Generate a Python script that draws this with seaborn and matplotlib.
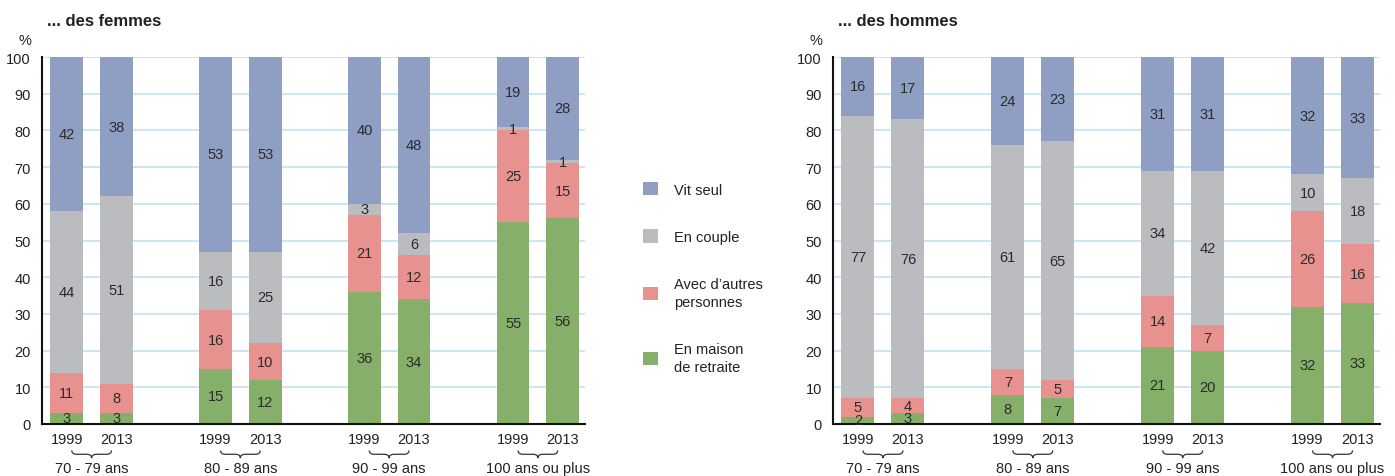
import matplotlib
matplotlib.use("Agg")
import matplotlib.pyplot as plt
from matplotlib.patches import Patch
from matplotlib.path import Path
from matplotlib.patches import PathPatch
import numpy as np
import pandas as pd
import seaborn as sns

# categories
groups = ["70 - 79 ans", "80 - 89 ans", "90 - 99 ans", "100 ans ou plus"]
years = ["1999", "2013"]
layers = ["En maison\nde retraite", "Avec d\u2019autres\npersonnes", "En couple", "Vit seul"]
colors = ["#86b06a", "#e8928f", "#bbbcc0", "#8f9fc4"]

# values per bar (1999, 2013 for each age group), bottom to top
f_maison = [3, 3, 15, 12, 36, 34, 55, 56]
f_autres = [11, 8, 16, 10, 21, 12, 25, 15]
f_couple = [44, 51, 16, 25, 3, 6, 1, 1]
f_seul = [42, 38, 53, 53, 40, 48, 19, 28]

h_maison = [2, 3, 8, 7, 21, 20, 32, 33]
h_autres = [5, 4, 7, 5, 14, 7, 26, 16]
h_couple = [77, 76, 61, 65, 34, 42, 10, 18]
h_seul = [16, 17, 24, 23, 31, 31, 32, 33]

positions = [0, 1, 3, 4, 6, 7, 9, 10]

sns.set_style("white")
plt.rcParams["font.family"] = ["Liberation Sans Narrow", "Liberation Sans", "DejaVu Sans"]

FS = 10.5
TXT = "#222222"

fig = plt.figure(figsize=(13.95, 4.77), dpi=100)
ax_f = fig.add_axes([42 / 1395, 1 - 425 / 477, 543 / 1395, 367 / 477])
ax_h = fig.add_axes([833 / 1395, 1 - 425 / 477, 547 / 1395, 367 / 477])


def brace(ax, x0, x1, ytop, ybot):
    xm = (x0 + x1) / 2
    ymid = (ytop + ybot) / 2
    verts = [(x0, ytop), (x0, ymid), (x0 + 0.1, ymid), (xm - 0.1, ymid),
             (xm, ymid), (xm, ybot), (xm, ybot),
             (xm, ymid), (xm + 0.1, ymid), (x1 - 0.1, ymid),
             (x1, ymid), (x1, ytop)]
    codes = [Path.MOVETO, Path.CURVE3, Path.CURVE3, Path.LINETO,
             Path.CURVE3, Path.CURVE3, Path.MOVETO,
             Path.CURVE3, Path.CURVE3, Path.LINETO,
             Path.CURVE3, Path.CURVE3]
    p = PathPatch(Path(verts, codes), transform=ax.get_xaxis_transform(),
                  fill=False, lw=0.9, edgecolor="#333333", clip_on=False)
    ax.add_patch(p)


def draw(ax, vals, title):
    df = pd.DataFrame({"pos": positions})
    cum = np.zeros(len(positions))
    cums = []
    for v in vals:
        cum = cum + np.array(v)
        cums.append(cum.copy())
    # draw from top layer down so lower layers overlay
    for i in reversed(range(len(vals))):
        df["h"] = np.minimum(cums[i], 100)
        sns.barplot(data=df, x="pos", y="h", native_scale=True, width=0.66,
                    color=colors[i], saturation=1, linewidth=0, ax=ax, zorder=2)
    for i, v in enumerate(vals):
        for j, x in enumerate(positions):
            mid = cums[i][j] - v[j] / 2
            ax.text(x, mid, str(v[j]), ha="center", va="center",
                    fontsize=FS, color="#2b2b2b", zorder=5)
    ax.set_xlim(-0.5, 10.45)
    ax.set_ylim(0, 100)
    ax.set_yticks(range(0, 101, 10))
    for y in range(10, 101, 10):
        ax.axhline(y, color="#c3e1f1", lw=1.2, zorder=0)
    ax.set_xticks(positions)
    ax.set_xticklabels(years * 4)
    ax.tick_params(axis="both", length=0, labelsize=FS, colors=TXT)
    ax.tick_params(axis="x", pad=6)
    ax.tick_params(axis="y", pad=8)
    ax.set_xlabel("")
    ax.set_ylabel("")
    for s in ["top", "right"]:
        ax.spines[s].set_visible(False)
    for s in ["left", "bottom"]:
        ax.spines[s].set_color("#111111")
        ax.spines[s].set_linewidth(1.5)
    for k, g in enumerate(groups):
        x0 = positions[2 * k]
        brace(ax, x0 + 0.1, x0 + 0.9, -0.072, -0.093)
        ax.text(x0 + 0.5, -0.12, g, transform=ax.get_xaxis_transform(),
                ha="center", va="center", fontsize=FS, color=TXT)
    ax.text(-0.032, 1.045, "%", transform=ax.transAxes,
            ha="center", va="center", fontsize=FS, color=TXT)
    ax.text(0.01, 1.1, title, transform=ax.transAxes, ha="left", va="center",
            fontsize=12, fontweight="bold", color=TXT)


draw(ax_f, [f_maison, f_autres, f_couple, f_seul], "... des femmes")
draw(ax_h, [h_maison, h_autres, h_couple, h_seul], "... des hommes")

handles = [Patch(facecolor=colors[i], edgecolor="none") for i in reversed(range(4))]
labels = list(reversed(layers))
leg = fig.legend(handles, labels, loc="upper left", bbox_to_anchor=(630 / 1395, 1 - 170 / 477),
                 frameon=False, handlelength=1.0, handleheight=1.0, handletextpad=1.1,
                 labelspacing=2.25, fontsize=FS, labelcolor=TXT)
for t in leg.get_texts():
    t.set_linespacing(1.4)

fig.savefig("out.png", dpi=100)
